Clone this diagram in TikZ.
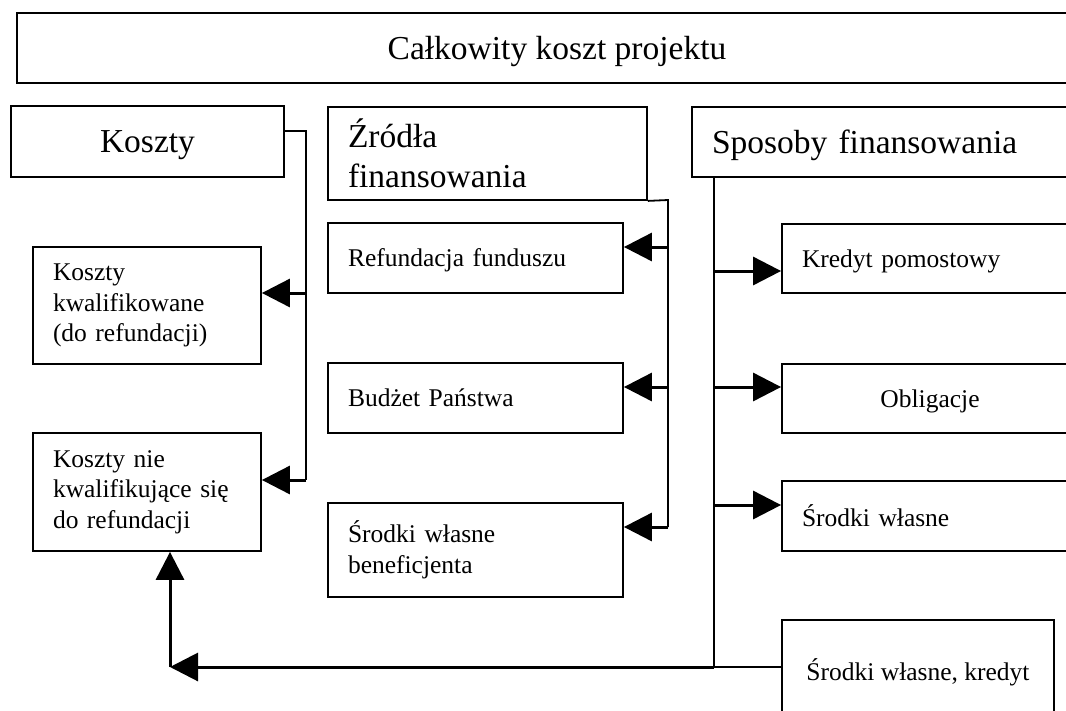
\documentclass[tikz,border=0pt]{standalone}
\usepackage{fontspec}
\setmainfont{Liberation Serif}
\usetikzlibrary{arrows.meta}

\newcommand{\bigtxt}{\fontsize{33.5}{40}\selectfont}
\newcommand{\smalltxt}{\fontsize{25.5}{30.5}\selectfont}

\begin{document}
\begin{tikzpicture}[
            x=1pt, y=1pt,
            box/.style={draw, line width=1.8pt, inner sep=0pt},
            oneline/.style={text depth=0pt},
            bigbox/.style={box, font=\bigtxt, align=left},
            smallbox/.style={box, font=\smalltxt, align=left},
            link/.style={line width=1.8pt},
            feed/.style={line width=3pt, -{Triangle[length=28pt, width=28pt]}},
            ]
            \useasboundingbox (0, 0) rectangle (1066, -710);
            \clip (0, 0) rectangle (1066, -710);

            \node[bigbox, oneline, minimum width=1080pt, minimum height=70pt] (total) at (557, -48) {Całkowity koszt projektu};

            % koszty
            \node[bigbox, oneline, minimum width=273pt, minimum height=71pt] (koszty) at (147.5, -141.5) {Koszty};
            \node[smallbox, inner xsep=20pt, text width=188pt, minimum height=117pt] (kwal) at (147, -305.5)
                {Koszty\\kwalifikowane\\(do refundacji)};
            \node[smallbox, inner xsep=20pt, text width=188pt, minimum height=118pt] (nie) at (147, -492)
                {Koszty nie\\kwalifikujące się\\do refundacji};

            % zrodla finansowania
            \node[bigbox, inner xsep=20pt, text width=279pt, minimum height=93pt] (zrodla) at (487.5, -153.5)
                {Źródła\\finansowania};
            \node[smallbox, oneline, inner xsep=20pt, text width=255pt, minimum height=70pt] (refund) at (475.5, -258) {Refundacja funduszu};
            \node[smallbox, oneline, inner xsep=20pt, text width=255pt, minimum height=70pt] (budzet) at (475.5, -398) {Budżet Państwa};
            \node[smallbox, inner xsep=20pt, text width=255pt, minimum height=94pt] (wlasneben) at (475.5, -550)
                {Środki własne\\beneficjenta};

            % sposoby finansowania
            \node[bigbox, oneline, inner xsep=20pt, text width=360pt, minimum height=70pt] (sposoby) at (892, -142) {Sposoby finansowania};
            \node[smallbox, oneline, inner xsep=20pt, text width=260pt, minimum height=69pt] (kredyt) at (932, -258.5) {Kredyt pomostowy};
            \node[smallbox, oneline, minimum width=296pt, minimum height=69pt] (oblig) at (930, -398.5) {Obligacje};
            \node[smallbox, oneline, inner xsep=20pt, text width=260pt, minimum height=70pt] (wlasne) at (932, -516) {Środki własne};
            \node[smallbox, oneline, minimum width=272pt, minimum height=100pt] (wlasnekred) at (918, -670) {Środki własne, kredyt};

            \coordinate (kb0) at (306, -131);
            \coordinate (kb1) at (306, -293);
            \coordinate (kb2) at (306, -480);
            \coordinate (zb0) at (668, -200);
            \coordinate (zb1) at (668, -247);
            \coordinate (zb2) at (668, -387);
            \coordinate (zb3) at (668, -527);
            \coordinate (sb1) at (714, -271);
            \coordinate (sb2) at (714, -387);
            \coordinate (sb3) at (714, -505);
            \coordinate (sb4) at (714, -667);
            \coordinate (corner) at (170, -667);

            \draw[link] (koszty.east |- kb0) -- (kb0) -- (kb2);
            \draw[link] (zrodla.south east) -- (zb0) -- (zb3);
            \draw[link] (sposoby.south -| sb4) -- (sb4);
            \draw[link] (wlasnekred.west |- sb4) -- (sb4);

            \begin{scope}[feed]
                \draw (kb1) -- (kb1 -| kwal.east);
                \draw (kb2) -- (kb2 -| nie.east);
                \foreach \c/\n in {zb1/refund, zb2/budzet, zb3/wlasneben}
                    \draw (\c) -- (\c -| \n.east);
                \foreach \c/\n in {sb1/kredyt, sb2/oblig, sb3/wlasne}
                    \draw (\c) -- (\c -| \n.west);
                \draw (sb4) -- (corner);
                \draw (corner) -- (corner |- nie.south);
            \end{scope}
        \end{tikzpicture}
\end{document}
